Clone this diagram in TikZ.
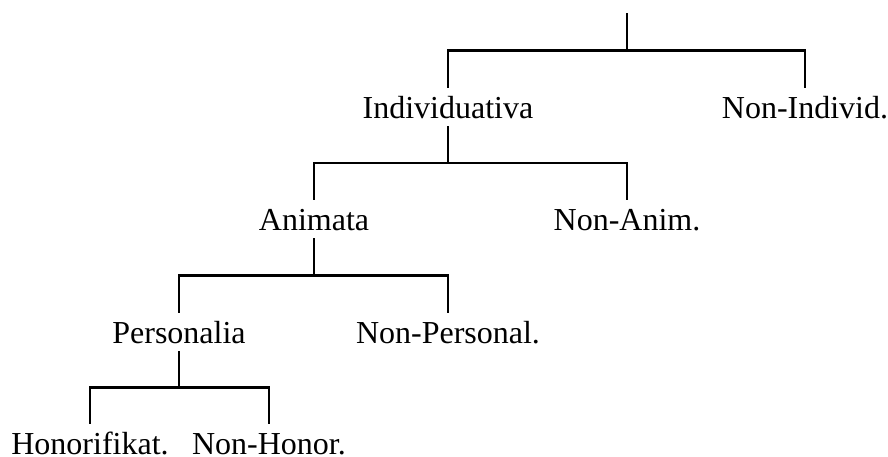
\documentclass[tikz,border=0pt]{standalone}
\usepackage{fontspec}
\setmainfont{Liberation Serif}
\usetikzlibrary{calc}
\begin{document}
\begin{tikzpicture}[x=1pt,y=-1pt,
  lbl/.style={anchor=base, inner xsep=0pt, inner ysep=8pt,
    text height=22pt, text depth=0pt, font=\fontsize{32}{38}\selectfont},
  branch/.style={line width=2.8pt, line join=miter}]
\useasboundingbox (0,0) rectangle (888,456);

% category labels, one row per level
\coordinate (top) at (627,13);
\node[lbl] (ind)   at (448,118) {Individuativa};
\node[lbl] (nind)  at (805,118) {Non-Individ.};
\node[lbl] (anim)  at (314,230) {Animata};
\node[lbl] (nanim) at (627,230) {Non-Anim.};
\node[lbl] (pers)  at (179,343) {Personalia};
\node[lbl] (npers) at (448,343) {Non-Personal.};
\node[lbl] (hon)   at (90,454)  {Honorifikat.};
\node[lbl] (nhon)  at (269,454) {Non-Honor.};

% junction points halfway between parent and children
\coordinate (j0) at ($(top)!.5!(top |- ind.north)$);
\coordinate (j1) at ($(ind.south)!.5!(ind.south |- anim.north)$);
\coordinate (j2) at ($(anim.south)!.5!(anim.south |- pers.north)$);
\coordinate (j3) at ($(pers.south)!.5!(pers.south |- hon.north)$);

% branches
\draw[branch] (top) -- (j0);
\draw[branch] (ind.north) |- (j0) -| (nind.north);
\draw[branch] (ind.south) -- (j1);
\draw[branch] (anim.north) |- (j1) -| (nanim.north);
\draw[branch] (anim.south) -- (j2);
\draw[branch] (pers.north) |- (j2) -| (npers.north);
\draw[branch] (pers.south) -- (j3);
\draw[branch] (hon.north) |- (j3) -| (nhon.north);
\end{tikzpicture}
\end{document}
